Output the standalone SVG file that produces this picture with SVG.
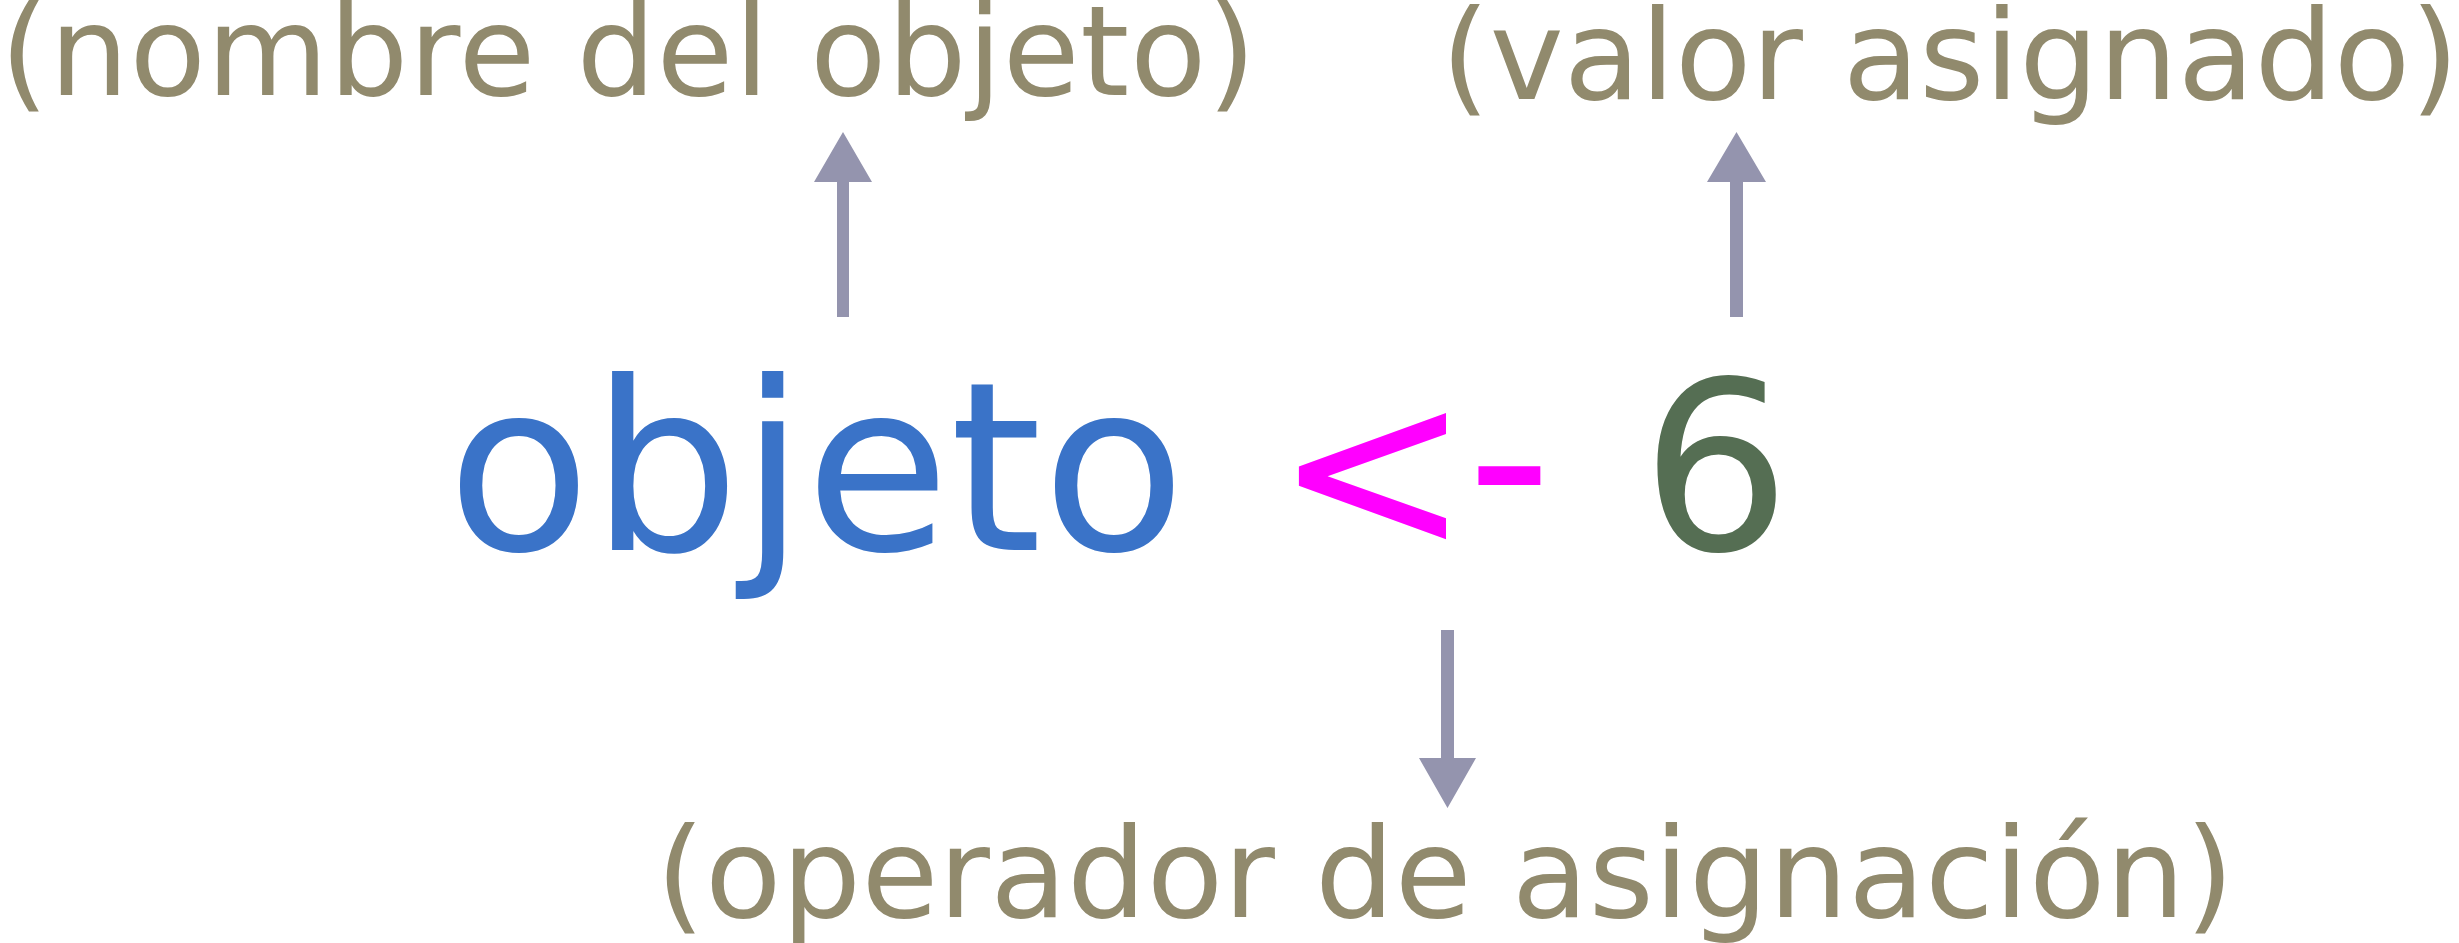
<svg xmlns="http://www.w3.org/2000/svg" width="2459" height="943" viewBox="0 0 2459 943">
<style>
.lbl{font-family:"DejaVu Sans","Liberation Sans",sans-serif;font-size:125px;fill:#918A6D}
.main{font-family:"DejaVu Sans","Liberation Sans",sans-serif;font-size:235px}
.arr{fill:#9494AE}
</style>
<rect width="2459" height="943" fill="#FFFFFF"/>
<g id="label-nombre"><text class="lbl" x="0" y="95" textLength="1256" lengthAdjust="spacing">(nombre del objeto)</text></g>
<g id="label-valor"><text class="lbl" x="1441" y="99" textLength="1018" lengthAdjust="spacing">(valor asignado)</text></g>
<g id="label-operador"><text class="lbl" x="656" y="917" textLength="1578" lengthAdjust="spacing">(operador de asignación)</text></g>
<g id="node-objeto"><text class="main" x="447" y="550" fill="#3A73C8">objeto</text></g>
<g id="node-operador"><text class="main" x="1274" y="550" fill="#FF00FF">&lt;</text><text class="main" x="1467" y="540" fill="#FF00FF">-</text></g>
<g id="node-valor"><text class="main" x="1641" y="550" fill="#556E53">6</text></g>
<g id="connectors">
<path class="arr" d="M837 317V182H814L843 132L872 182H849V317Z"/>
<path class="arr" d="M1730 317V182H1707L1736.5 132L1766 182H1743V317Z"/>
<path class="arr" d="M1441 630V758H1419L1447.5 808L1476 758H1454V630Z"/>
</g>
</svg>
